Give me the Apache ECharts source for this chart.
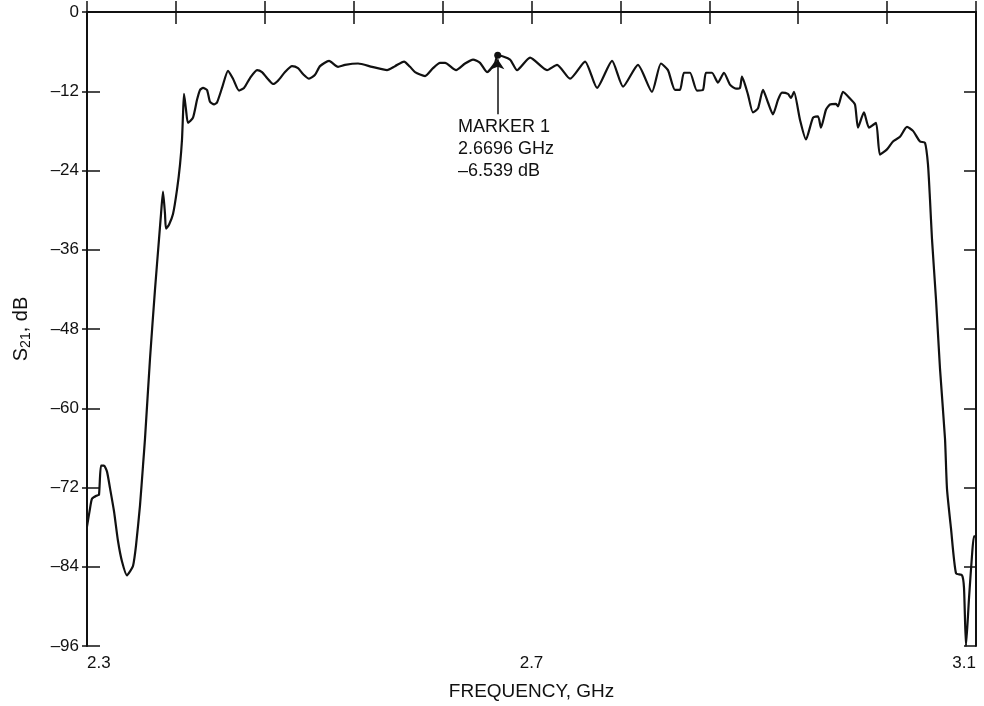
<!DOCTYPE html>
<html>
<head>
<meta charset="utf-8">
<title>S21 vs frequency</title>
<script src="https://cdn.jsdelivr.net/npm/echarts@6/dist/echarts.min.js"></script>
<style>
  html, body { margin: 0; padding: 0; background: #fff; }
  #chart { width: 984px; height: 706px; }
</style>
</head>
<body>
<div id="chart"></div>
<script>
const freqGHz = [
  2.300, 2.3027, 2.3045, 2.309, 2.3108, 2.3126, 2.3153, 2.318, 2.3207, 2.3243,
  2.3279, 2.3315, 2.336, 2.3387, 2.3414, 2.3441, 2.3477, 2.3504, 2.3522, 2.3567,
  2.3612, 2.3648, 2.3666, 2.3684, 2.3702, 2.3711, 2.3738, 2.3774, 2.381, 2.3837,
  2.3855, 2.3864, 2.3873, 2.3891, 2.3909, 2.3954, 2.399, 2.4017, 2.4044, 2.408,
  2.4107, 2.4143, 2.417, 2.4215, 2.4269, 2.4314, 2.4368, 2.4413, 2.4467, 2.453,
  2.4575, 2.462, 2.4674, 2.4719, 2.4782, 2.4845, 2.4899, 2.4944, 2.4998, 2.5052,
  2.5097, 2.5178, 2.5259, 2.5322, 2.5439, 2.5565, 2.57, 2.5772, 2.5853, 2.5907,
  2.5952, 2.6042, 2.6114, 2.6177, 2.6222, 2.6321, 2.6402, 2.6474, 2.6537, 2.66,
  2.6672, 2.6696, 2.6807, 2.687, 2.6987, 2.714, 2.723, 2.7347, 2.7482, 2.759,
  2.7725, 2.7824, 2.7958, 2.8084, 2.8165, 2.8228, 2.8291, 2.8336, 2.8372, 2.8426,
  2.8489, 2.8543, 2.857, 2.8624, 2.8678, 2.8732, 2.8786, 2.884, 2.8876, 2.8894,
  2.8948, 2.8993, 2.9038, 2.9083, 2.9128, 2.9173, 2.9218, 2.9254, 2.9308, 2.9335,
  2.9362, 2.9416, 2.947, 2.9533, 2.9578, 2.9605, 2.965, 2.9686, 2.974, 2.9758,
  2.9803, 2.9866, 2.9911, 2.9938, 2.9992, 3.0037, 3.01, 3.0136, 3.0199, 3.0253,
  3.0316, 3.0379, 3.0433, 3.0496, 3.0541, 3.0568, 3.0586, 3.0604, 3.064, 3.0676,
  3.0721, 3.0739, 3.0775, 3.082, 3.0874, 3.0892, 3.091, 3.0937, 3.0964, 3.0982,
  3.1
];
const s21dB = [
  -77.9, -75.2, -73.7, -73.2, -73.1, -68.7, -68.7, -69.6, -72.1, -75.6,
  -80.1, -83.2, -85.3, -84.7, -83.9, -80.8, -74.7, -68.7, -64.6, -52.5,
  -42.0, -34.4, -30.6, -27.2, -30.6, -32.8, -32.2, -30.6, -26.9, -23.1,
  -19.3, -15.5, -12.4, -14.8, -16.8, -16.0, -13.3, -11.8, -11.5, -11.8,
  -13.6, -14.0, -13.7, -11.5, -8.9, -10.1, -11.9, -11.5, -10.0, -8.8,
  -9.1, -10.0, -10.9, -10.4, -9.1, -8.2, -8.5, -9.4, -10.1, -9.5,
  -8.2, -7.4, -8.3, -8.0, -7.8, -8.3, -8.8, -8.2, -7.5, -8.3,
  -9.1, -9.7, -8.5, -7.7, -7.7, -8.8, -7.8, -7.2, -7.7, -9.1,
  -7.7, -6.539, -7.2, -8.8, -6.9, -8.8, -8.0, -10.1, -7.5, -11.5,
  -7.4, -11.3, -8.0, -12.1, -7.8, -8.8, -11.8, -11.8, -9.2, -9.2,
  -11.9, -11.8, -9.2, -9.2, -10.7, -9.2, -11.0, -11.6, -11.5, -9.8,
  -12.5, -15.2, -14.6, -11.8, -13.7, -15.5, -13.3, -12.2, -12.4, -13.0,
  -12.1, -16.3, -19.3, -16.0, -15.8, -17.5, -14.8, -14.0, -13.9, -14.3,
  -12.1, -13.1, -14.0, -17.5, -15.2, -17.5, -16.8, -21.6, -20.8, -19.6,
  -18.9, -17.4, -18.0, -19.6, -19.8, -23.1, -28.4, -34.4, -43.5, -54.0,
  -64.6, -72.2, -78.2, -85.0, -85.3, -87.2, -96.0, -88.8, -82.3, -79.4,
  -79.4
];
const xTickLabels = ['2.3', '2.7', '3.1'];
const markerFreq = 2.6696;
const markerDb = -6.539;

const ink = '#111';
const font = 'Liberation Sans, Arial, Helvetica, sans-serif';

const chart = echarts.init(document.getElementById('chart'), null, { renderer: 'canvas' });

const xBase = { type: 'value', min: 2.3, max: 3.1, interval: 0.08 };
const yBase = { type: 'value', min: -96, max: 0, interval: 12 };

chart.setOption({
  backgroundColor: '#fff',
  animation: false,
  grid: { left: 87, right: 8, top: 12, bottom: 58 },
  xAxis: [
    Object.assign({}, xBase, {
      position: 'bottom',
      name: 'FREQUENCY, GHz',
      nameLocation: 'middle',
      nameGap: 36,
      nameTextStyle: { color: ink, fontFamily: font, fontSize: 19 },
      axisLine: { show: true, lineStyle: { color: ink, width: 2 } },
      axisTick: { show: true, inside: true, length: 11, lineStyle: { color: ink, width: 1.5 } },
      axisLabel: {
        color: ink, fontFamily: font, fontSize: 17, margin: 9,
        alignMinLabel: 'left', alignMaxLabel: 'right',
        formatter: v => xTickLabels.find(l => Math.abs(+l - v) < 1e-6) || ''
      },
      splitLine: { show: false }
    }),
    Object.assign({}, xBase, {
      position: 'top',
      axisLine: { show: true, lineStyle: { color: ink, width: 2 } },
      axisTick: { show: true, inside: true, length: 12, lineStyle: { color: ink, width: 1.5 } },
      axisLabel: { show: false },
      splitLine: { show: false }
    })
  ],
  yAxis: [
    Object.assign({}, yBase, {
      position: 'left',
      name: '{s|S}{sub|21}{n|, dB}',
      nameLocation: 'middle',
      nameGap: 54,
      nameTextStyle: {
        color: ink, fontFamily: font,
        rich: {
          s: { fontSize: 20, fontFamily: font, color: ink },
          sub: { fontSize: 14, fontFamily: font, color: ink, verticalAlign: 'bottom', padding: [9, 0, 0, 0] },
          n: { fontSize: 20, fontFamily: font, color: ink }
        }
      },
      axisLine: { show: true, lineStyle: { color: ink, width: 2 } },
      axisTick: { show: true, inside: true, length: 13, lineStyle: { color: ink, width: 1.5 } },
      axisLabel: {
        color: ink, fontFamily: font, fontSize: 17, margin: 8,
        formatter: v => (v < 0 ? '\u2013' + Math.abs(v) : String(v))
      },
      splitLine: { show: false }
    }),
    // short outside stubs of the left ticks
    Object.assign({}, yBase, {
      position: 'left',
      axisLine: { show: false },
      axisTick: { show: true, inside: false, length: 5, lineStyle: { color: ink, width: 1.5 } },
      axisLabel: { show: false },
      splitLine: { show: false }
    }),
    Object.assign({}, yBase, {
      position: 'right',
      axisLine: { show: true, lineStyle: { color: ink, width: 2 } },
      axisTick: { show: true, inside: true, length: 12, lineStyle: { color: ink, width: 1.5 } },
      axisLabel: { show: false },
      splitLine: { show: false }
    })
  ],
  series: [{
    type: 'line',
    xAxisIndex: 0,
    yAxisIndex: 0,
    data: freqGHz.map((f, i) => [f, s21dB[i]]),
    showSymbol: false,
    smooth: 0.2,
    lineStyle: { color: ink, width: 2.2 },
    z: 3,
    markLine: {
      silent: true,
      symbol: ['none', 'arrow'],
      symbolSize: 10,
      lineStyle: { color: ink, width: 1.5, type: 'solid' },
      label: { show: false },
      data: [[{ coord: [markerFreq, -15.5] }, { coord: [markerFreq, markerDb - 0.6] }]]
    },
    markPoint: {
      silent: true,
      data: [
        {
          coord: [markerFreq, markerDb],
          symbol: 'circle',
          symbolSize: 7,
          itemStyle: { color: ink },
          label: { show: false }
        },
        {
          coord: [2.6339, -15.7],
          symbol: 'circle',
          symbolSize: 1,
          itemStyle: { color: 'rgba(0,0,0,0)' },
          label: {
            show: true,
            position: 'inside',
            align: 'left',
            verticalAlign: 'top',
            color: ink,
            fontFamily: font,
            fontSize: 18,
            lineHeight: 22,
            formatter: 'MARKER 1\n' + markerFreq + ' GHz\n\u2013' + Math.abs(markerDb) + ' dB'
          }
        }
      ]
    }
  }]
});

window.addEventListener('resize', () => chart.resize());
</script>
</body>
</html>
